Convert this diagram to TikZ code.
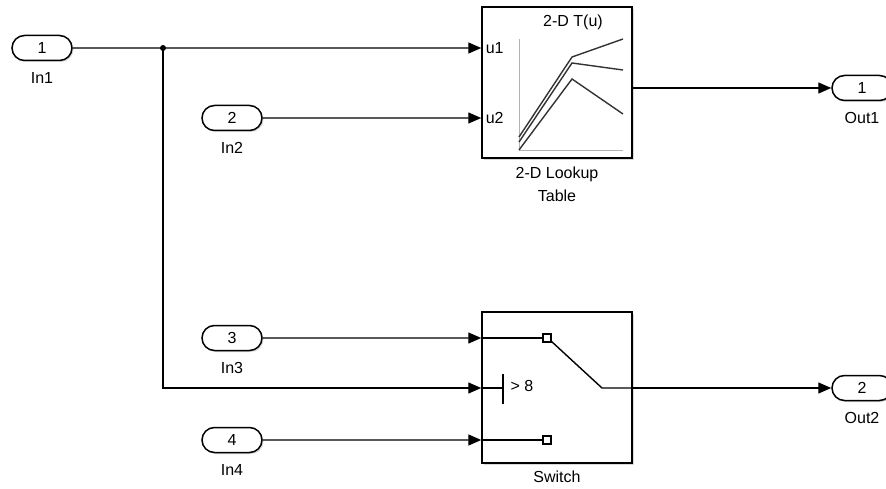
\documentclass[tikz,border=0pt]{standalone}
\usepackage{fontspec}
\setmainfont{Liberation Sans}
\usetikzlibrary{positioning,arrows.meta,shapes.misc,shadows}

\begin{document}
\begin{tikzpicture}[x=1pt,y=-1pt,
  font=\fontsize{16}{23}\selectfont,
  port/.style={draw,line width=1.5pt,rounded rectangle,fill=white,
    minimum width=60pt,minimum height=25pt,inner sep=0pt,
    drop shadow={opacity=0.3,shadow xshift=1.5pt,shadow yshift=-1.5pt}},
  blk/.style={draw,line width=1.5pt,fill=white,minimum width=150pt,
    minimum height=151pt,inner sep=0pt,
    drop shadow={opacity=0.3,shadow xshift=2pt,shadow yshift=-2pt}},
  sig/.style={line width=1.4pt,-{Triangle[length=13pt,width=11pt]}},
  wire/.style={line width=1.4pt}]
\useasboundingbox (0,0) rectangle (886,489);

% blocks
\node[blk] (lut) at (557,82.5) {};
\node[blk] (sw) at (557,387.5) {};
\node[below=5pt of lut,align=center] (lutlab) {2-D Lookup\\Table};
\node[below=4pt of sw] (swlab) {Switch};

% ports
\node[port] (in1) at (42,48) {1};
\node[port] (in2) at (232,118) {2};
\node[port] (in3) at (232,338) {3};
\node[port] (in4) at (232,440) {4};
\node[port] (out1) at (862,88) {1};
\node[port] (out2) at (862,388) {2};
\foreach \p/\t in {in1/In1,in2/In2,in3/In3,in4/In4,out1/Out1,out2/Out2}
  \node[below=8pt of \p] (\p lab) {\t};

% lookup table icon
\node at (573,22) {2-D T(u)};
\node[right=1pt of lut.west|-in1] (u1) {u1};
\node[right=1pt of lut.west|-in2] (u2) {u2};
\draw[gray!60,line width=0.9pt] (519,39) -- (519,150) -- (623,150);
\draw[line width=1.4pt,black!80] (519,137) -- (572,57) -- (623,39);
\draw[line width=1.4pt,black!80] (519,142) -- (572,63) -- (623,70);
\draw[line width=1.4pt,black!80] (519,150) -- (572,79) -- (623,114);

% switch icon
\draw[wire] (sw.west|-in3) -- (543,338);
\draw[wire] (543,334) rectangle (551,342);
\draw[wire] (551,341) -- (602,388) -- (sw.east|-out2);
\draw[wire] (482,388) -- (503,388);
\draw[wire] (503,374) -- (503,404);
\node[right=4pt] at (503,386) {> 8};
\draw[wire] (sw.west|-in4) -- (543,440);
\draw[wire] (543,436) rectangle (551,444);

% signals
\coordinate (br) at (163,48);
\fill (br) circle (3pt);
\draw[sig] (in1) -- (lut.west|-in1);
\draw[sig] (in2) -- (lut.west|-in2);
\draw[sig] (lut.east|-out1) -- (out1);
\draw[sig] (in3) -- (sw.west|-in3);
\draw[sig] (br) |- (sw.west|-out2);
\draw[sig] (in4) -- (sw.west|-in4);
\draw[sig] (sw.east|-out2) -- (out2);
\end{tikzpicture}
\end{document}
